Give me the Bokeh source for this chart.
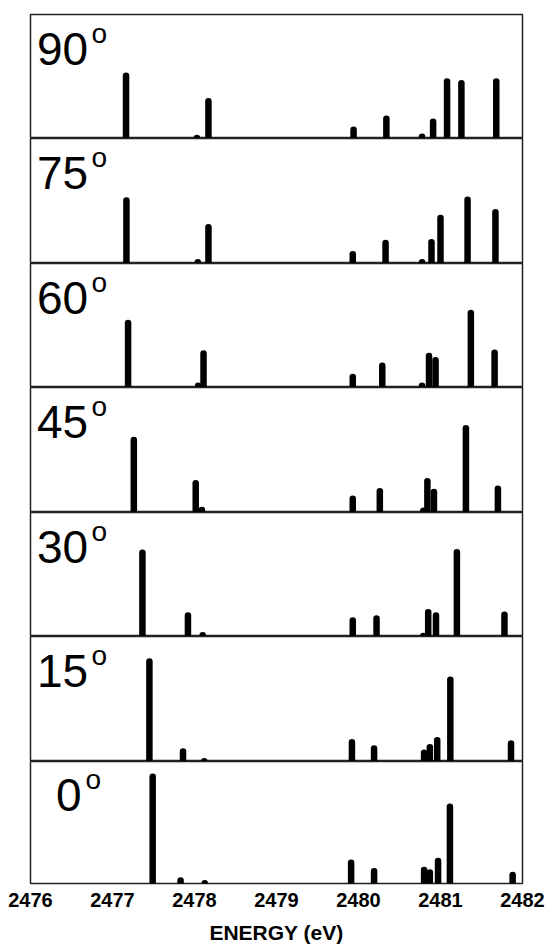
from bokeh.plotting import figure
from bokeh.layouts import column
from bokeh.models import Range1d, Label, FixedTicker
from bokeh.embed import file_html
from bokeh.resources import INLINE

# ---- data (energies in eV, intensities as fraction of panel height) ----
angle_labels = ["90", "75", "60", "45", "30", "15", "0"]
x_ticks = [2476, 2477, 2478, 2479, 2480, 2481, 2482]

energy_90 = [2477.165, 2478.03, 2478.17, 2479.94, 2480.34, 2480.775, 2480.91, 2481.08, 2481.255, 2481.68]
inten_90 = [0.506, 0.005, 0.30, 0.07, 0.16, 0.015, 0.135, 0.46, 0.445, 0.46]

energy_75 = [2477.17, 2478.04, 2478.17, 2479.93, 2480.33, 2480.775, 2480.89, 2481.0, 2481.33, 2481.67]
inten_75 = [0.505, 0.01, 0.29, 0.075, 0.165, 0.01, 0.17, 0.365, 0.51, 0.41]

energy_60 = [2477.19, 2478.045, 2478.11, 2479.93, 2480.29, 2480.775, 2480.86, 2480.94, 2481.37, 2481.66]
inten_60 = [0.52, 0.015, 0.275, 0.085, 0.175, 0.015, 0.255, 0.22, 0.60, 0.28]

energy_45 = [2477.26, 2478.015, 2478.09, 2479.93, 2480.26, 2480.79, 2480.84, 2480.92, 2481.31, 2481.70]
inten_45 = [0.58, 0.235, 0.02, 0.11, 0.17, 0.015, 0.25, 0.165, 0.675, 0.19]

energy_30 = [2477.365, 2477.92, 2478.10, 2479.93, 2480.22, 2480.79, 2480.85, 2480.945, 2481.20, 2481.78]
inten_30 = [0.675, 0.17, 0.01, 0.13, 0.145, 0.005, 0.195, 0.17, 0.68, 0.175]

energy_15 = [2477.45, 2477.86, 2478.12, 2479.92, 2480.19, 2480.80, 2480.87, 2480.96, 2481.12, 2481.86]
inten_15 = [0.80, 0.08, 0.003, 0.155, 0.105, 0.07, 0.115, 0.17, 0.655, 0.145]

energy_0 = [2477.49, 2477.83, 2478.125, 2479.91, 2480.19, 2480.80, 2480.87, 2480.97, 2481.115, 2481.88]
inten_0 = [0.875, 0.025, 0.003, 0.17, 0.10, 0.11, 0.09, 0.185, 0.63, 0.07]

energies = [energy_90, energy_75, energy_60, energy_45, energy_30, energy_15, energy_0]
intensities = [inten_90, inten_75, inten_60, inten_45, inten_30, inten_15, inten_0]

# ---- layout ----
FONT = "Liberation Sans"
x_range = Range1d(2476, 2482)
frame_heights = [124, 125, 124, 125, 124, 125, 124]
figs = []
n = len(angle_labels)
for i in range(n):
    last = (i == n - 1)
    first = (i == 0)
    top_b = 14 if first else 0
    bot_b = 61 if last else 0
    p = figure(
        width=547, height=frame_heights[i] + top_b + bot_b,
        x_range=x_range, y_range=Range1d(0, 1),
        output_backend="svg", toolbar_location=None,
        x_axis_location="below" if last else None,
        y_axis_location=None,
        min_border_left=30, min_border_right=25,
        min_border_top=top_b, min_border_bottom=bot_b,
        background_fill_color="white", border_fill_color="white",
    )
    p.outline_line_color = "#222222"
    p.outline_line_width = 1.5
    p.xgrid.visible = False
    p.ygrid.visible = False

    p.segment(x0=energies[i], y0=[0] * len(energies[i]), x1=energies[i], y1=intensities[i],
              line_color="black", line_width=6.5, line_cap="round")

    lx = 2476.311 if angle_labels[i] == "0" else 2476.079
    ox = 2476.67 if angle_labels[i] == "0" else 2476.745
    p.add_layout(Label(x=lx, y=0.725, text=angle_labels[i], text_font=FONT,
                       text_font_size="46px", text_color="black",
                       text_baseline="alphabetic", text_align="left"))
    p.add_layout(Label(x=ox, y=0.85, text="o", text_font=FONT,
                       text_font_size="28px", text_color="black",
                       text_baseline="alphabetic", text_align="left"))

    if last:
        ax = p.xaxis[0]
        ax.ticker = FixedTicker(ticks=x_ticks)
        ax.axis_line_color = None
        ax.major_tick_line_color = None
        ax.minor_tick_line_color = None
        ax.major_tick_out = 0
        ax.major_tick_in = 0
        ax.major_label_standoff = 9
        ax.major_label_text_font = FONT
        ax.major_label_text_font_style = "bold"
        ax.major_label_text_font_size = "20px"
        ax.major_label_text_color = "black"
        ax.axis_label = "ENERGY (eV)"
        ax.axis_label_text_font = FONT
        ax.axis_label_text_font_style = "bold"
        ax.axis_label_text_font_size = "21px"
        ax.axis_label_text_color = "black"
        ax.axis_label_standoff = 11
    figs.append(p)

layout = column(*figs, spacing=0)
open("out.html", "w").write(file_html(layout, INLINE))
